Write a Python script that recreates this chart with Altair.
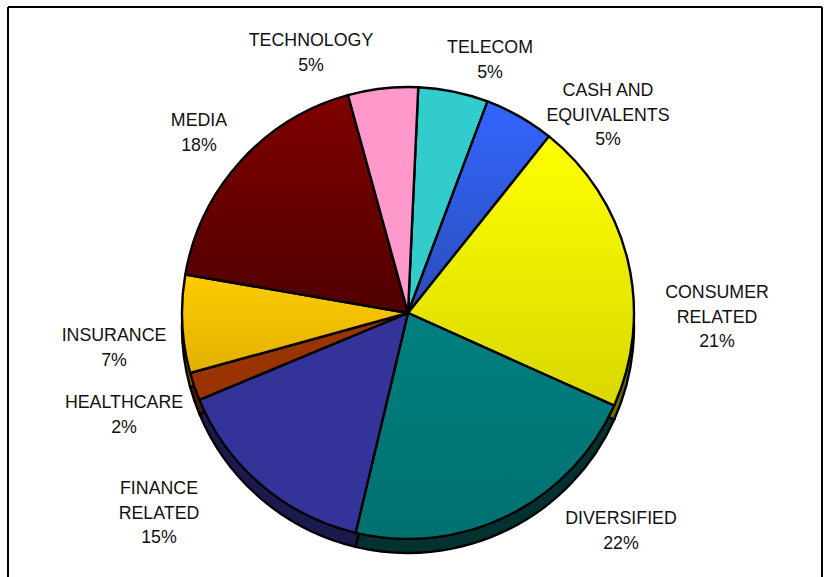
import math
import altair as alt
import pandas as pd

# Portfolio sector weights, clockwise from just right of twelve o'clock
sectors = ["TELECOM", "CASH AND\nEQUIVALENTS", "CONSUMER\nRELATED", "DIVERSIFIED",
           "FINANCE\nRELATED", "HEALTHCARE", "INSURANCE", "MEDIA", "TECHNOLOGY"]
weights = [5, 5, 21, 22, 15, 2, 7, 18, 5]

top_colors = ["#33CCCC", "#3366FF", "#FFFF00", "#008080", "#333399",
              "#993300", "#FFCC00", "#800000", "#FF99CC"]
low_colors = ["#33CCCC", "#2A4DB8", "#D8D800", "#007070", "#333399",
              "#993300", "#E0B000", "#4F0000", "#FF99CC"]
side_colors = ["#1A6666", "#1A3380", "#6E6E00", "#003232", "#1A1A4D",
               "#4D1A00", "#806600", "#400000", "#804D66"]

# Layout constants (pixels)
CENTER_X, CENTER_Y = 408, 313
RADIUS = 226
DEPTH = 14
START = math.radians(2.6)
FIRST_LINE_ANCHORS = [(490, 48), (608, 91), (717, 293), (621, 519), (159, 489),
                      (124, 403), (114, 336), (199, 121), (311, 41)]

ends, total = [], 0
for w in weights:
    total += w
    ends.append(total)
table = pd.DataFrame({
    "sector": sectors,
    "weight": weights,
    "end": ends,
    "start": [e - w for e, w in zip(ends, weights)],
})
table["label"] = table["sector"] + "\n" + table["weight"].astype(str) + "%"

angle = alt.Scale(domain=[0, 100], range=[START, START + 2 * math.pi])


def slice_layer(row, fill, y_center):
    return alt.Chart(table.iloc[[row]]).mark_arc(
        outerRadius=RADIUS, fill=fill, stroke="#000000", strokeWidth=2.4
    ).encode(
        theta=alt.Theta("start:Q", scale=angle),
        theta2=alt.Theta2("end:Q"),
        x=alt.value(CENTER_X),
        y=alt.value(y_center),
    )


def gradient(top, low):
    return alt.LinearGradient(
        gradient="linear", x1=0, y1=0, x2=0, y2=1,
        stops=[alt.GradientStop(color=top, offset=0), alt.GradientStop(color=low, offset=1)],
    )


layers = []

# Outer frame; its lower edge runs off the page
for x1, y1, x2, y2 in [(8, 7, 8, 577), (8, 7, 822, 7), (822, 7, 822, 577)]:
    layers.append(alt.Chart(table.iloc[[0]]).mark_rule(color="#000000", strokeWidth=2).encode(
        x=alt.value(x1), x2=alt.value(x2), y=alt.value(y1), y2=alt.value(y2)))

# Extruded side of the pie, then the top face
for i in range(len(sectors)):
    layers.append(slice_layer(i, side_colors[i], CENTER_Y + DEPTH))
for i in range(len(sectors)):
    layers.append(slice_layer(i, gradient(top_colors[i], low_colors[i]), CENTER_Y))

# Sector names with their percentages
for i, (lx, ly) in enumerate(FIRST_LINE_ANCHORS):
    layers.append(alt.Chart(table.iloc[[i]]).mark_text(
        font="Liberation Sans", fontSize=17.8, lineHeight=24.5, lineBreak="\n",
        align="center", baseline="middle", color="#111111",
    ).encode(text="label:N", x=alt.value(lx), y=alt.value(ly)))

chart = alt.layer(*layers).properties(
    width=826, height=577, padding=0,
    autosize=alt.AutoSizeParams(type="none"),
    background="#FFFFFF",
).configure_view(stroke=None)

chart.save("out.html", embed_options={"renderer": "svg", "actions": False})
